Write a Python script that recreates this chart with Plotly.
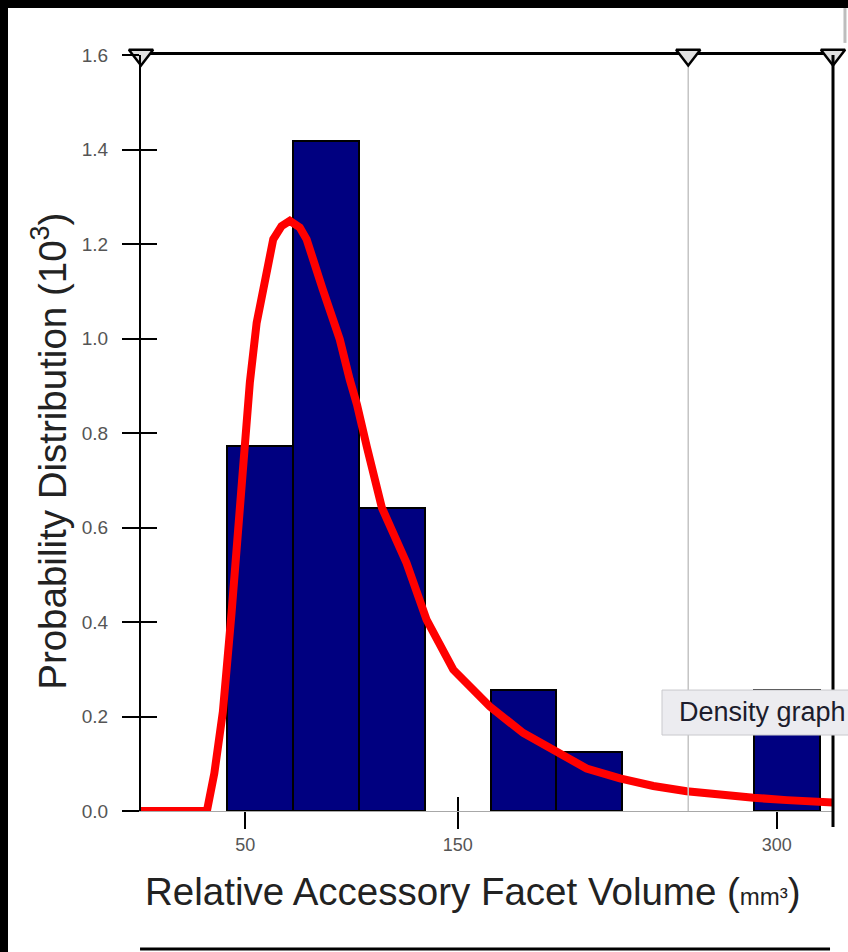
import plotly.graph_objects as go

# ---- data ----
bin_centers = [56.9, 87.9, 118.9, 149.9, 180.9, 211.9, 242.9, 273.9, 304.9]
bin_heights = [0.773, 1.417, 0.642, 0.0, 0.256, 0.125, 0.0, 0.0, 0.256]
bin_width = 31.0

curve_x = [1, 32.0, 35.5, 39.5, 43.6, 46.0, 48.9, 52.2, 55.4, 60.0, 63.2, 67.1, 71.0,
           75.7, 78.9, 86.5, 94.5, 99.2, 102.6, 107.2, 114.3, 125.9, 135.3, 147.9,
           165.1, 180.8, 194.9, 210.6, 226.3, 242.0, 257.7, 273.4, 289.1, 304.8, 326.5]
curve_y = [0, 0, 0.08, 0.21, 0.42, 0.56, 0.697, 0.907, 1.033, 1.139, 1.21, 1.238, 1.249,
           1.235, 1.21, 1.104, 0.998, 0.913, 0.86, 0.771, 0.642, 0.525, 0.405, 0.299,
           0.221, 0.165, 0.128, 0.090, 0.069, 0.053, 0.042, 0.034, 0.028, 0.023, 0.018]

marker_x = [1, 258.4, 326.5]          # slider handles / reference marker
y_ticks = [0.0, 0.2, 0.4, 0.6, 0.8, 1.0, 1.2, 1.4, 1.6]
x_ticks = [50, 150, 300]
x_range = [marker_x[0], marker_x[-1]]
y_range = [0, 1.6]

FONT = "Liberation Sans, Arial, Helvetica, sans-serif"

fig = go.Figure()

fig.add_trace(go.Bar(
    x=bin_centers, y=[h if h > 0 else None for h in bin_heights], width=bin_width,
    marker=dict(color="#000080", line=dict(color="black", width=2)),
    showlegend=False, hoverinfo="skip"))

fig.add_trace(go.Scatter(
    x=curve_x, y=curve_y, mode="lines",
    line=dict(color="#ff0000", width=8),
    showlegend=False, name="Density graph"))

# gray reference line at the middle marker
fig.add_trace(go.Scatter(
    x=[marker_x[1], marker_x[1]], y=y_range, mode="lines",
    line=dict(color="#c4c4c4", width=1.5), showlegend=False, hoverinfo="skip"))

# triangle handles on the top border
fig.add_trace(go.Scatter(
    x=marker_x, y=[y_range[1]] * len(marker_x), mode="markers", xaxis="x2",
    marker=dict(symbol="triangle-down", size=21, color="#e0e0e0",
                line=dict(color="black", width=2.5)),
    cliponaxis=False, showlegend=False, hoverinfo="skip"))

# dummy traces to anchor overlay axes
fig.add_trace(go.Scatter(x=[None], y=[None], yaxis="y2", showlegend=False, hoverinfo="skip"))
fig.add_trace(go.Scatter(x=[None], y=[None], xaxis="x3", showlegend=False, hoverinfo="skip"))

ytickfont = dict(family=FONT, size=19, color="#555555")
xtickfont = dict(family=FONT, size=18, color="#555555")

fig.update_layout(
    width=840, height=944,
    margin=dict(l=133, r=15, t=47, b=141, pad=0),
    paper_bgcolor="white", plot_bgcolor="white",
    bargap=0,
    xaxis=dict(range=x_range, showgrid=False, zeroline=False, showline=True,
               linecolor="#a8a8a8", linewidth=1, ticks="outside", ticklen=17,
               tickwidth=2, tickcolor="black", tickvals=x_ticks,
               ticktext=[str(v) for v in x_ticks], tickfont=xtickfont,
               automargin=False),
    xaxis2=dict(range=x_range, overlaying="x", side="top", showgrid=False,
                zeroline=False, showline=True, linecolor="black", linewidth=3,
                ticks="", showticklabels=False, layer="below traces",
                automargin=False),
    xaxis3=dict(range=x_range, overlaying="x", side="bottom", showgrid=False,
                zeroline=False, showline=False, ticks="inside", ticklen=14,
                tickwidth=2, tickcolor="black", tickvals=[x_ticks[1]],
                showticklabels=False, automargin=False),
    yaxis=dict(range=y_range, showgrid=False, zeroline=False, showline=True,
               linecolor="black", linewidth=2, ticks="outside", ticklen=17,
               tickwidth=1.5, tickcolor="black", tickvals=y_ticks,
               ticktext=[f"{v:.1f}" for v in y_ticks], tickfont=ytickfont,
               ticklabelstandoff=10, automargin=False),
    yaxis2=dict(range=y_range, overlaying="y", side="left", showgrid=False,
                zeroline=False, showline=False, ticks="inside", ticklen=16,
                tickwidth=1.5, tickcolor="black", tickvals=y_ticks[:-1],
                showticklabels=False, automargin=False),
    font=dict(family=FONT),
)

shapes = [
    # right vertical border line (extends slightly below baseline)
    dict(type="line", xref="paper", yref="paper", x0=1, x1=1, y0=-0.021, y1=1,
         line=dict(color="black", width=3)),
    # bottom line of next panel
    dict(type="line", xref="paper", yref="paper", x0=-0.0014, x1=0.9957, y0=-0.1825,
         y1=-0.1825, line=dict(color="black", width=3)),
    # gray edge at top right
    dict(type="line", xref="paper", yref="paper", x0=1.0173, x1=1.0173, y0=1.016,
         y1=1.07, line=dict(color="#bdbdbd", width=3)),
    # tooltip box
    dict(type="rect", xref="paper", yref="paper", x0=0.7529, x1=1.05, y0=0.1005, y1=0.16,
         fillcolor="#ececf0", line=dict(color="#c9c9cd", width=1)),
]
fig.update_layout(shapes=shapes)

fig.add_annotation(
    text="Density graph", xref="paper", yref="paper", x=0.774, y=0.131,
    xanchor="left", yanchor="middle", showarrow=False,
    font=dict(family=FONT, size=27, color="#1c1c2c"))

fig.add_annotation(
    text="Relative Accessory Facet Volume (<span style='font-size:24px'>mm³</span>)",
    xref="paper", yref="paper", x=0.003, y=-0.107, xanchor="left", yanchor="middle",
    showarrow=False, font=dict(family=FONT, size=38.5, color="#222222"))

fig.add_annotation(
    text="Probability Distribution (10<sup>3</sup>)",
    xref="paper", yref="paper", x=-0.132, y=0.476, xanchor="center", yanchor="middle",
    textangle=-90, showarrow=False, font=dict(family=FONT, size=38.5, color="#222222"))

# the screenshot shows a black screen edge on the top and left only
fig.write_html(
    "out.html",
    post_script=("document.body.style.background='black';"
                 "document.body.style.margin='8px 0 0 8px';"))
